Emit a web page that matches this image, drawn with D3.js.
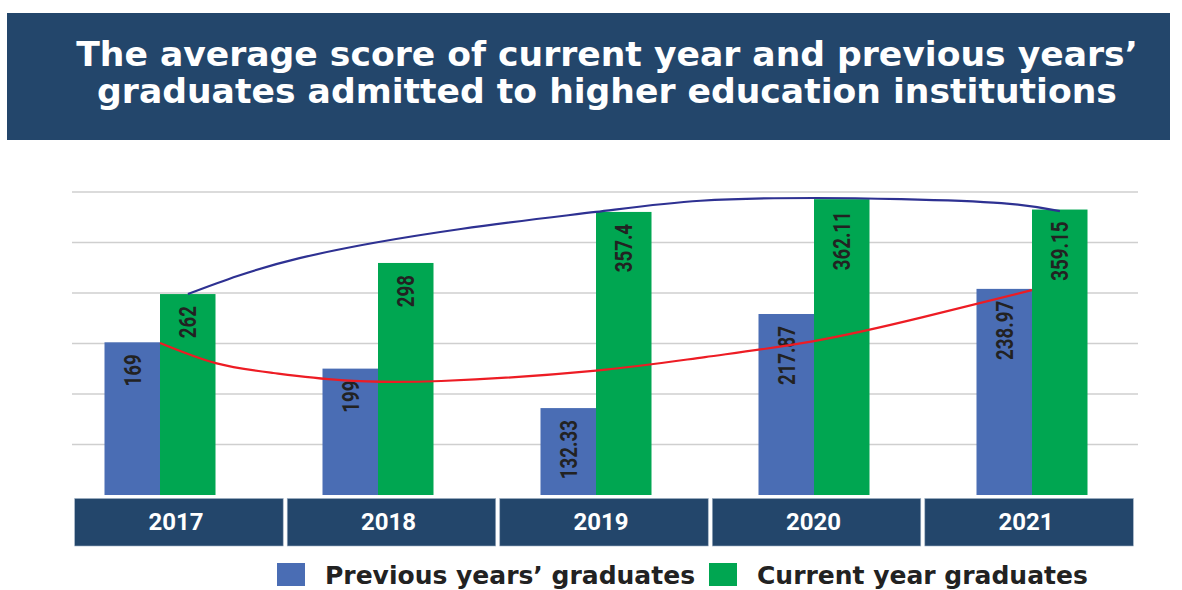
<!DOCTYPE html>
<html>
<head>
<meta charset="utf-8">
<script src="https://cdn.jsdelivr.net/npm/d3@7"></script>
<style>
  body { margin: 0; background: #fff; }
  svg { display: block; }
</style>
</head>
<body>
<script>
var w = 1182
var h = 590

// data
var years = ["2017", "2018", "2019", "2020", "2021"]
var prevLabels = ["169", "199", "132.33", "217.87", "238.97"]
var currLabels = ["262", "298", "357.4", "362.11", "359.15"]
// bar lengths as they are drawn (the original does not draw them to the labels)
var prevBars = [191.5, 158.5, 109, 227, 258.5]
var currBars = [252, 291, 355, 371, 358]
// trend curves: position in years from 2017, value on the same axis
var prevTrendX = [0, 0.26, 0.52, 0.83, 1.29, 2, 2.5, 3, 3.5, 4]
var prevTrendY = [190.7, 165, 153, 144, 143, 156, 173, 193, 223, 257]
var currTrendX = [0.128, 0.64, 1.38, 2, 2.48, 3, 3.4, 3.86, 4.128]
var currTrendY = [252, 297, 333.6, 355, 369, 372.5, 371, 366, 356]
var legendNames = ["Previous years\u2019 graduates", "Current year graduates"]
var titleLines = ["The average score of current year and previous years\u2019",
                  "graduates admitted to higher education institutions"]

var navy = "#23466b"
var blue = "#4a6db4"
var green = "#00a651"
var wideFont = "'DejaVu Sans', Verdana, sans-serif"

var svg = d3.select("body")
            .append("svg")
            .attr("width", w)
            .attr("height", h)

// title banner
svg.append("rect")
    .attr("x", 7)
    .attr("y", 13)
    .attr("width", 1163)
    .attr("height", 127)
    .attr("fill", navy)

svg.selectAll(".title")
    .data(titleLines)
    .enter().append("text")
    .attr("class", "title")
    .text(function(d) {return d})
    .attr("x", 607)
    .attr("y", function(d, i) {return 66 + i * 37})
    .attr("text-anchor", "middle")
    .attr("fill", "#fff")
    .attr("font-family", wideFont)
    .attr("font-weight", 700)
    .attr("font-size", "34.6px")

var yMax = 380
var y = d3.scaleLinear()
          .domain([0, yMax])
          .range([495, 192])

var x = d3.scaleLinear()   // split between the two bars of a year
          .domain([0, 4])
          .range([160, 1032])

var band = d3.scaleBand()
             .domain(years)
             .range([74.7, 1133.3])
             .paddingInner(0.019)

// gridlines
svg.selectAll(".grid")
    .data(d3.range(1, 7).map(function(i) {return i * yMax / 6}))
    .enter().append("line")
    .attr("x1", 72)
    .attr("x2", 1138)
    .attr("y1", function(d) {return y(d)})
    .attr("y2", function(d) {return y(d)})
    .attr("stroke", "#cfcfcf")
    .attr("stroke-width", 1.6)

var bw = 55.5

svg.selectAll(".prev")
    .data(prevBars)
    .enter().append("rect")
    .attr("x", function(d, i) {return x(i) - bw})
    .attr("y", function(d) {return y(d)})
    .attr("width", bw)
    .attr("height", function(d) {return y(0) - y(d)})
    .attr("fill", blue)

svg.selectAll(".curr")
    .data(currBars)
    .enter().append("rect")
    .attr("x", function(d, i) {return x(i)})
    .attr("y", function(d) {return y(d)})
    .attr("width", bw)
    .attr("height", function(d) {return y(0) - y(d)})
    .attr("fill", green)

// value labels, rotated, condensed
function labels(vals, bars, off) {
  svg.selectAll(null)
      .data(vals)
      .enter().append("text")
      .text(function(d) {return d})
      .attr("transform", function(d, i) {
        return "translate(" + (x(i) + off) + "," + (y(bars[i]) + 12) + ") rotate(-90) scale(0.78,1)"
      })
      .attr("dy", "0.36em")
      .attr("text-anchor", "end")
      .attr("fill", "#222")
      .attr("font-family", "Roboto, sans-serif")
      .attr("font-weight", 700)
      .attr("font-size", "24px")
}
labels(prevLabels, prevBars, -bw / 2)
labels(currLabels, currBars, bw / 2)

// trend lines
var line = d3.line()
             .x(function(d) {return x(d[0])})
             .y(function(d) {return y(d[1])})
             .curve(d3.curveNatural)

svg.append("path")
    .attr("d", line(d3.zip(currTrendX, currTrendY)))
    .attr("fill", "none")
    .attr("stroke", "#2e3192")
    .attr("stroke-width", 2.2)

svg.append("path")
    .attr("d", line(d3.zip(prevTrendX, prevTrendY)))
    .attr("fill", "none")
    .attr("stroke", "#ed1c24")
    .attr("stroke-width", 2.2)

// year boxes
svg.selectAll(".year")
    .data(years)
    .enter().append("rect")
    .attr("x", function(d) {return band(d)})
    .attr("y", 498.5)
    .attr("width", band.bandwidth())
    .attr("height", 47.5)
    .attr("fill", navy)
    .attr("stroke", "#9fb0c4")
    .attr("stroke-width", 0.6)

svg.selectAll(".yearText")
    .data(years)
    .enter().append("text")
    .text(function(d) {return d})
    .attr("x", function(d) {return band(d) + band.bandwidth() / 2 - 3})
    .attr("y", 530)
    .attr("text-anchor", "middle")
    .attr("fill", "#fff")
    .attr("font-family", "Roboto, sans-serif")
    .attr("font-weight", 700)
    .attr("font-size", "24px")

// legend
var legendX = [277, 709]
var legendColors = [blue, green]

svg.selectAll(".legRect")
    .data(legendNames)
    .enter().append("rect")
    .attr("x", function(d, i) {return legendX[i]})
    .attr("y", 563)
    .attr("width", 28)
    .attr("height", 23)
    .attr("fill", function(d, i) {return legendColors[i]})

svg.selectAll(".legText")
    .data(legendNames)
    .enter().append("text")
    .text(function(d) {return d})
    .attr("x", function(d, i) {return legendX[i] + 48})
    .attr("y", 584)
    .attr("fill", "#222")
    .attr("font-family", wideFont)
    .attr("font-weight", 700)
    .attr("font-size", "25px")
</script>
</body>
</html>
